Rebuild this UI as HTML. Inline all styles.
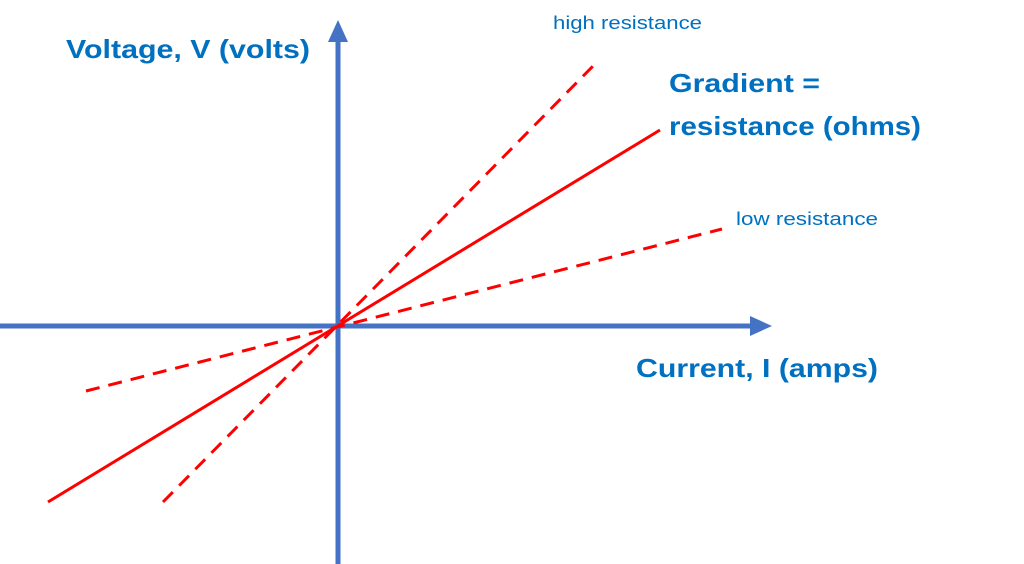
<!DOCTYPE html>
<html><head><meta charset="utf-8"><style>html,body{margin:0;padding:0;background:#fff;}svg{display:block}</style></head>
<body>
<svg width="1024" height="564" viewBox="0 0 1024 564" xmlns="http://www.w3.org/2000/svg">
<g stroke="#4472C4" stroke-width="5" fill="none">
<line x1="338" y1="38" x2="338" y2="564"/>
<line x1="0" y1="326" x2="752" y2="326"/>
</g>
<polygon points="338,20 328,42 348,42" fill="#4472C4"/>
<polygon points="772,326 750,316 750,336" fill="#4472C4"/>
<g stroke="#FF0000" stroke-width="3" fill="none">
<line x1="48" y1="502" x2="660" y2="130"/>
<line x1="163" y1="502" x2="597" y2="62" stroke-dasharray="14,9"/>
<line x1="86" y1="391" x2="722" y2="229" stroke-dasharray="14,9"/>
</g>
<g font-family="Liberation Sans, sans-serif" fill="#0070C0">
<text x="66" y="58" font-size="26" font-weight="bold" textLength="244" lengthAdjust="spacingAndGlyphs">Voltage, V (volts)</text>
<text x="669" y="92" font-size="26" font-weight="bold" textLength="151" lengthAdjust="spacingAndGlyphs">Gradient =</text>
<text x="669" y="135" font-size="26" font-weight="bold" textLength="252" lengthAdjust="spacingAndGlyphs">resistance (ohms)</text>
<text x="636" y="377" font-size="26" font-weight="bold" textLength="242" lengthAdjust="spacingAndGlyphs">Current, I (amps)</text>
<text x="553" y="29" font-size="18" textLength="149" lengthAdjust="spacingAndGlyphs">high resistance</text>
<text x="736" y="225" font-size="18" textLength="142" lengthAdjust="spacingAndGlyphs">low resistance</text>
</g>
</svg>
</body></html>
